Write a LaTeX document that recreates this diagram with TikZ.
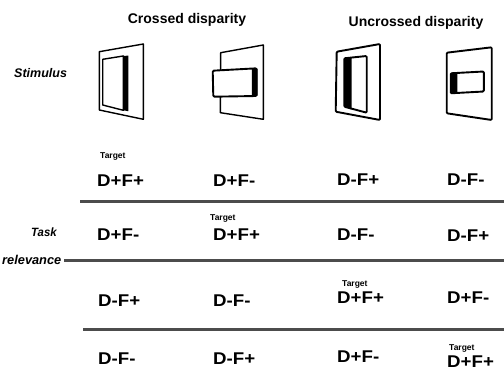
\documentclass[tikz,border=0pt]{standalone}
\usepackage{fontspec}
\setmainfont{Liberation Sans}
\usepackage{graphicx}
% horizontally widened label text
\newcommand\widetxt[1]{\scalebox{1.1}[1]{#1}}
\begin{document}
\begin{tikzpicture}[x=1pt,y=-1pt,
  head/.style={font=\fontsize{14}{16}\selectfont\bfseries, inner sep=0pt, anchor=base},
  side/.style={font=\fontsize{12}{14}\selectfont\bfseries\itshape, inner sep=0pt},
  cell/.style={font=\fontsize{17}{19}\selectfont\bfseries, inner sep=0pt, anchor=base west},
  tgt/.style={font=\fontsize{8.5}{10}\selectfont\bfseries, inner sep=0pt, anchor=base west},
  rule/.style={line width=3pt, draw=black!70},
  frame/.style={line width=1.4pt, line join=round},
  heavyframe/.style={line width=1.9pt, line join=round, rounded corners=1pt},
]
\useasboundingbox (0,0) rectangle (504,371);

% column headings
\node[head] (crossed) at (187,24) {Crossed disparity};
\node[head] (uncrossed) at (416,27) {Uncrossed disparity};

% row labels
\node[side, anchor=base west, font=\fontsize{12.5}{14}\selectfont\bfseries\itshape] (stim) at (14,78) {Stimulus};
\node[side, anchor=base west] (task) at (31,237) {\scalebox{0.95}[1]{Task}};
\node[side, anchor=base east, font=\fontsize{12.8}{15}\selectfont\bfseries\itshape] (relev) at (61.5,265) {relevance};

% stimulus 1: crossed, recessed frame window
\draw[frame] (99.3,51.7) -- (143.3,44) -- (143.3,119.3) -- (99.3,110) -- cycle;
\draw[frame] (102.7,59.3) -- (123.3,56) -- (123.3,110.3) -- (102.7,105) -- cycle;
\fill (123.3,56) -- (128.3,55.6) -- (128.3,111.2) -- (123.3,110.3) -- cycle;

% stimulus 2: crossed, protruding bar
\draw[frame] (220.7,52.7) -- (263.3,45) -- (263.3,119.3) -- (220.3,112.7) -- cycle;
\filldraw[fill=white, line width=1.9pt, line join=round, rounded corners=1.2pt]
  (212.7,70.7) -- (256.7,68.3) -- (256.7,96) -- (213.3,96.7) -- cycle;
\fill (251.8,69.2) -- (257.3,68.6) -- (257.3,95.8) -- (251.8,95.9) -- cycle;

% stimulus 3: uncrossed, vertical window
\draw[heavyframe] (336.7,51.7) -- (380,44) -- (380,120) -- (335.7,111.7) -- cycle;
\draw[heavyframe] (344.3,58.3) -- (366.7,56) -- (366.7,112.7) -- (344.3,106.7) -- cycle;
\fill (344.3,58.3) -- (351.5,58) -- (351.5,109.5) -- (344.3,106.7) -- cycle;

% stimulus 4: uncrossed, horizontal window
\draw[heavyframe] (446.7,52.7) -- (491.7,47.3) -- (491.7,120) -- (446.7,113.3) -- cycle;
\draw[heavyframe] (450.7,73.3) -- (483.8,71.5) -- (483.8,91.5) -- (450.7,93.3) -- cycle;
\fill (450.7,73.3) -- (457.3,73) -- (457.3,93) -- (450.7,93.3) -- cycle;

% task-relevance rows
\node[cell] (a1) at (97,187)  {\widetxt{D+F+}};
\node[cell] (b1) at (213,187) {\widetxt{D+F-}};
\node[cell] (c1) at (337,186) {\widetxt{D-F+}};
\node[cell] (d1) at (447,186) {\widetxt{D-F-}};

\node[cell] (a2) at (97,241)  {\widetxt{D+F-}};
\node[cell] (b2) at (213,241) {\widetxt{D+F+}};
\node[cell] (c2) at (337,241) {\widetxt{D-F-}};
\node[cell] (d2) at (447,242) {\widetxt{D-F+}};

\node[cell] (a3) at (98,307)  {\widetxt{D-F+}};
\node[cell] (b3) at (213,307) {\widetxt{D-F-}};
\node[cell] (c3) at (337,304) {\widetxt{D+F+}};
\node[cell] (d3) at (447,304) {\widetxt{D+F-}};

\node[cell] (a4) at (98,365)  {\widetxt{D-F-}};
\node[cell] (b4) at (213,365) {\widetxt{D-F+}};
\node[cell] (c4) at (337,363) {\widetxt{D+F-}};
\node[cell] (d4) at (447,368) {\widetxt{D+F+}};

% target markers
\node[tgt] (t1) at (100,159) {Target};
\node[tgt] (t2) at (210,221) {Target};
\node[tgt] (t3) at (342,287) {Target};
\node[tgt] (t4) at (449,351) {Target};

% separator rules
\coordinate (r1a) at (80,202);  \coordinate (r1b) at (504,202);
\coordinate (r2a) at (64,261);  \coordinate (r2b) at (504,261);
\coordinate (r3a) at (83,330);  \coordinate (r3b) at (504,330);
\draw[rule] (r1a) -- (r1b);
\draw[rule] (r2a) -- (r2b);
\draw[rule] (r3a) -- (r3b);
\end{tikzpicture}
\end{document}
